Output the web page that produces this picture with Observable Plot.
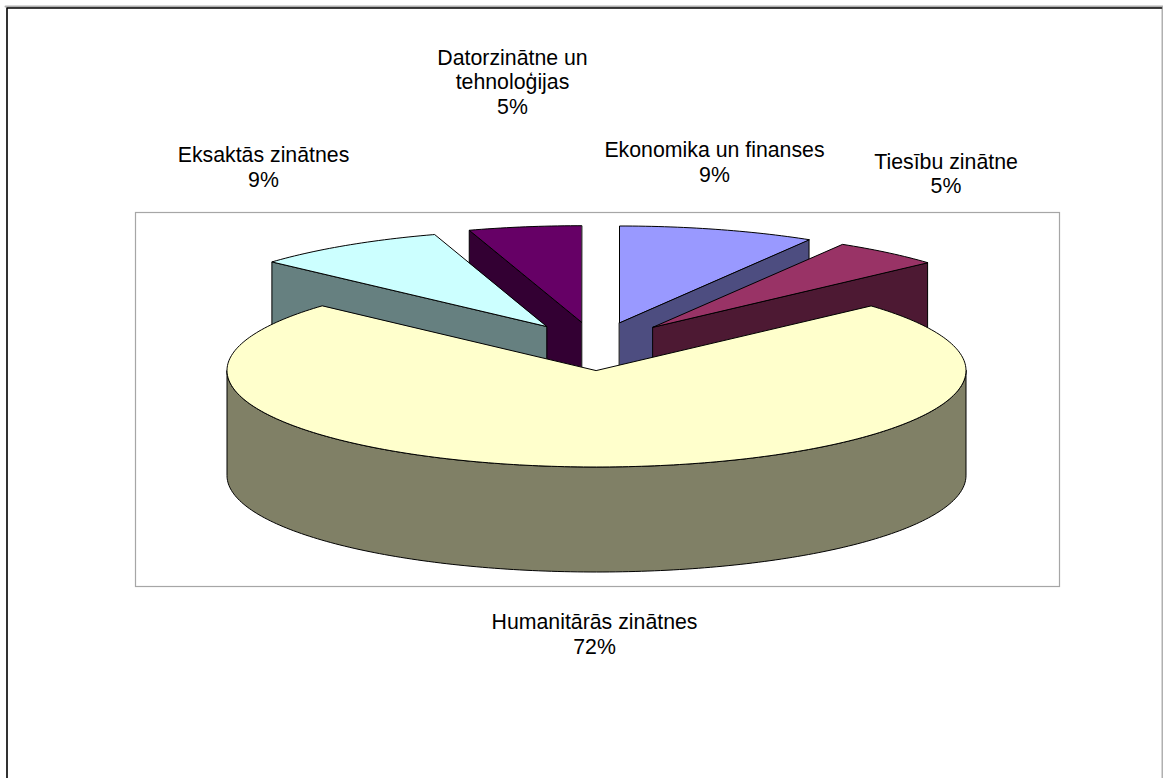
<!DOCTYPE html>
<html>
<head>
<meta charset="utf-8">
<script src="https://cdn.jsdelivr.net/npm/d3@7"></script>
<script src="https://cdn.jsdelivr.net/npm/@observablehq/plot@0.6"></script>
<style>
html, body { margin: 0; padding: 0; background: #fff; overflow: hidden; }
svg { display: block; }
</style>
</head>
<body>
<div id="chart"></div>
<script>
// Data, clockwise from the top of the pie
const categories = ["Ekonomika un finanses", "Tiesību zinātne", "Humanitārās zinātnes", "Eksaktās zinātnes", "Datorzinātne un\ntehnoloģijas"];
const shares = [9.0, 4.8, 72.4, 8.6, 5.2];
const topColors = ["#9999FF", "#993366", "#FFFFCC", "#CCFFFF", "#660066"];
const sideColors = ["#4D4D80", "#4D1933", "#808066", "#668080", "#330033"];

// Layout (pixels), separate from the data
const W = 1163, H = 778;
const pie = {cx: 596, cy: 370, rx: 369.5, ry: 96.5, depth: 105, tilt: 1.7};
const explodeX = [23, 56.5, 0, -50, -15];
const explodeY = [-48, -43.3, 0, -44, -48.3];
const labelX = [714, 945.5, 594, 263, 512];
const labelY = [161, 172.5, 633, 166, 81];
const drawOrder = [4, 0, 3, 1, 2];

// Slice angles from the shares
const cum = d3.cumsum(shares);
const total = cum[cum.length - 1];
const shown = (deg) => deg - pie.tilt * Math.sin(2 * deg * Math.PI / 180); // view foreshortening
const starts = shares.map((_, i) => shown((i ? cum[i - 1] : 0) / total * 360));
const ends = shares.map((_, i) => shown(cum[i] / total * 360));

const rim = (i, deg, drop = 0) => {
  const a = deg * Math.PI / 180;
  return {
    x: pie.cx + explodeX[i] + pie.rx * Math.sin(a),
    y: pie.cy + explodeY[i] - pie.ry * Math.cos(a) + drop
  };
};
const apex = (i, drop = 0) => ({x: pie.cx + explodeX[i], y: pie.cy + explodeY[i] + drop});
const arc = (i, a0, a1, drop = 0) => d3.range(a0, a1, 1).concat(a1).map((d) => rim(i, d, drop));

const poly = (points, fill) =>
  Plot.line(points, {x: "x", y: "y", curve: "linear-closed", fill, stroke: "black", strokeWidth: 1, strokeLinejoin: "round"});

const sliceMarks = drawOrder.flatMap((i) => {
  const marks = [];
  const top = [apex(i), ...arc(i, starts[i], ends[i])];
  if (ends[i] - starts[i] > 180) {
    // the large slice shows its front rim wall
    marks.push(poly([...arc(i, 90, 270), ...arc(i, 90, 270, pie.depth).reverse()], sideColors[i]));
  } else {
    // back slices show the cut face on their outer edge
    const dist = (d) => Math.abs(((d + 180) % 360 + 360) % 360 - 180);
    const edge = dist(starts[i]) > dist(ends[i]) ? starts[i] : ends[i];
    marks.push(poly([apex(i), rim(i, edge), rim(i, edge, pie.depth), apex(i, pie.depth)], sideColors[i]));
  }
  marks.push(poly(top, topColors[i]));
  return marks;
});

const labels = categories.map((name, i) => ({
  text: `${name}\n${Math.round(shares[i])}%`,
  x: labelX[i],
  y: labelY[i]
}));

const frameLine = (points, stroke, strokeWidth) => Plot.line(points, {x: "x", y: "y", stroke, strokeWidth});

const chart = Plot.plot({
  width: W,
  height: H,
  margin: 0,
  x: {domain: [0, W], range: [0, W], axis: null},
  y: {domain: [0, H], range: [0, H], axis: null},
  style: {background: "#fff", fontFamily: "'Liberation Sans', Arial, sans-serif"},
  marks: [
    frameLine([{x: 5, y: 6}, {x: 1162, y: 6}, {x: 1162, y: H}], "#b0b0b0", 2),
    frameLine([{x: 6.5, y: H}, {x: 6.5, y: 7.5}, {x: 1161, y: 7.5}], "#000", 1.6),
    Plot.rect([{x1: 135.5, x2: 1059.5, y1: 212.5, y2: 586.5}], {x1: "x1", x2: "x2", y1: "y1", y2: "y2", fill: "#fff", stroke: "#a6a6a6", strokeWidth: 1.2}),
    ...sliceMarks,
    Plot.text(labels, {x: "x", y: "y", text: "text", fontSize: 21.3, lineHeight: 1.17, fill: "#000", textAnchor: "middle"})
  ]
});
document.getElementById("chart").appendChild(chart);
</script>
</body>
</html>
